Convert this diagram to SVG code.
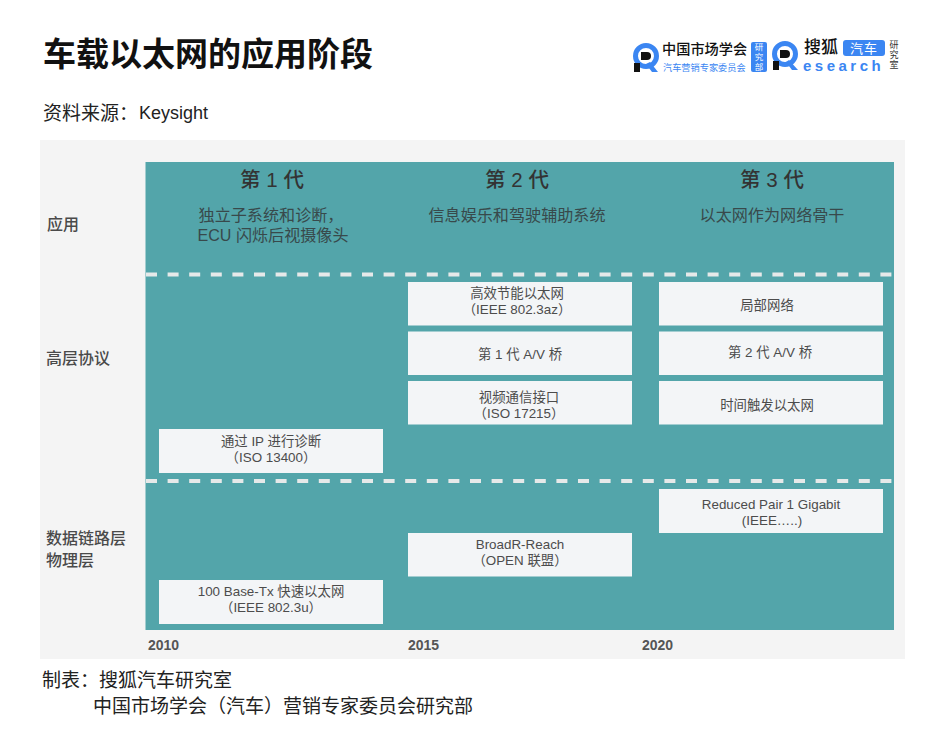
<svg xmlns="http://www.w3.org/2000/svg" width="938" height="752" viewBox="0 0 938 752">
<style>
text{font-family:"Liberation Sans","Noto Sans CJK SC",sans-serif}
.cjk{font-family:"Noto Sans CJK SC","Noto Sans",sans-serif}
.box{fill:#f3f5f7}
.bt{font-size:13.400px;fill:#4c4c4c;text-anchor:middle}
.side{font-size:16px;fill:#4a4a4a;font-weight:500}
.gen{font-size:20.500px;fill:#333;text-anchor:middle;font-weight:500}
.sub{font-size:16.100px;fill:#38494b;text-anchor:middle}
.yr{font-size:14px;fill:#555;font-weight:700}
.dash{stroke:#e6e9e9;stroke-width:4;stroke-dasharray:11 10.6;fill:none}
.foot{font-size:19px;fill:#222}
.blue{fill:#3b86f2}
.v{writing-mode:vertical-rl}
</style>
<rect width="938" height="752" fill="#fff"/>
<g id="title">
<text class="cjk" x="43" y="66" font-size="33" font-weight="700" fill="#111">车载以太网的应用阶段</text>
<text class="cjk" x="43" y="120" font-size="19" fill="#222">资料来源：</text>
<text x="139" y="119" font-size="18" fill="#222">Keysight</text>
</g>
<g id="logo">
<circle cx="646" cy="56" r="10.500" fill="none" stroke="#3b86f2" stroke-width="5"/>
<path d="M650 62l8 10h-6l-6-8z" class="blue"/>
<rect x="634" y="63" width="6" height="9" fill="#111"/>
<path d="M641 52h6a4 4 0 0 1 0 8h-6z" fill="#111"/>
<text class="cjk" x="662" y="54" font-size="14.200" font-weight="500" fill="#111">中国市场学会</text>
<text class="cjk" x="663" y="71" font-size="9.200" fill="#3b86f2">汽车营销专家委员会</text>
<rect x="751" y="42" width="16" height="30" rx="2" class="blue"/>
<text class="cjk v" x="759" y="43" font-size="8.500" fill="#fff" letter-spacing="1.300">研究部</text>
<circle cx="785" cy="54" r="10.500" fill="none" stroke="#3b86f2" stroke-width="5"/>
<path d="M789 60l9 10h-6l-6-8z" class="blue"/>
<rect x="773" y="61" width="6" height="9" fill="#111"/>
<path d="M780 50h6a4 4 0 0 1 0 8h-6z" fill="#111"/>
<text class="cjk" x="804" y="52.500" font-size="17" font-weight="500" fill="#111">搜狐</text>
<rect x="843" y="40" width="42" height="16" rx="3" class="blue"/>
<text class="cjk" x="864" y="53" font-size="13" fill="#fff" text-anchor="middle" letter-spacing="1">汽车</text>
<text x="803" y="71" font-size="15" font-weight="700" fill="#3b86f2" letter-spacing="3.500">esearch</text>
<text class="cjk v" x="894" y="40" font-size="9" fill="#333" letter-spacing="1">研究室</text>
</g>
<rect x="40" y="140" width="865" height="519" fill="#f4f4f4"/>
<rect x="145.500" y="162" width="748.500" height="468" fill="#53a5aa"/>
<g id="connectors">
<path class="dash" d="M146 274.500H892"/>
<path class="dash" d="M146 481H892"/>
</g>
<g id="side-labels">
<text class="cjk side" x="47" y="230">应用</text>
<text class="cjk side" x="46" y="364">高层协议</text>
<text class="cjk side" x="46" y="544">数据链路层</text>
<text class="cjk side" x="46" y="566">物理层</text>
</g>
<g id="gen1">
<text class="gen" x="272" y="187">第 1 代</text>
<text class="sub" x="271" y="221">独立子系统和诊断，</text>
<text class="sub" x="273" y="241">ECU 闪烁后视摄像头</text>
</g>
<g id="gen2">
<text class="gen" x="517" y="187">第 2 代</text>
<text class="sub" x="517" y="221">信息娱乐和驾驶辅助系统</text>
</g>
<g id="gen3">
<text class="gen" x="772" y="187">第 3 代</text>
<text class="sub" x="772" y="221">以太网作为网络骨干</text>
</g>
<g id="box-az"><rect class="box" x="408" y="282" width="224" height="43.500"/>
<text class="bt" x="517" y="298">高效节能以太网</text><text class="bt" x="517" y="314">（IEEE 802.3az）</text></g>
<g id="box-av1"><rect class="box" x="408" y="331.500" width="224" height="43.500"/>
<text class="bt" x="520" y="359">第 1 代 A/V 桥</text></g>
<g id="box-iso17215"><rect class="box" x="408" y="381" width="224" height="43.500"/>
<text class="bt" x="519" y="402">视频通信接口</text><text class="bt" x="519" y="418">（ISO 17215）</text></g>
<g id="box-local"><rect class="box" x="659" y="282" width="224" height="43.500"/>
<text class="bt" x="767" y="310">局部网络</text></g>
<g id="box-av2"><rect class="box" x="659" y="331.500" width="224" height="43.500"/>
<text class="bt" x="770" y="357">第 2 代 A/V 桥</text></g>
<g id="box-tsn"><rect class="box" x="659" y="381" width="224" height="43.500"/>
<text class="bt" x="767" y="410">时间触发以太网</text></g>
<g id="box-iso13400"><rect class="box" x="159" y="429" width="224" height="44"/>
<text class="bt" x="271" y="446">通过 IP 进行诊断</text><text class="bt" x="271" y="462">（ISO 13400）</text></g>
<g id="box-rpg"><rect class="box" x="659" y="489" width="224" height="44"/>
<text class="bt" x="771" y="509">Reduced Pair 1 Gigabit</text><text class="bt" x="772" y="525">(IEEE…..)</text></g>
<g id="box-broadr"><rect class="box" x="408" y="533" width="224" height="43.500"/>
<text class="bt" x="520" y="549">BroadR-Reach</text><text class="bt" x="520" y="565">（OPEN 联盟）</text></g>
<g id="box-100base"><rect class="box" x="159" y="580" width="224" height="44"/>
<text class="bt" x="271" y="596">100 Base-Tx 快速以太网</text><text class="bt" x="271" y="612">（IEEE 802.3u）</text></g>
<g id="years">
<text class="yr" x="148" y="650">2010</text>
<text class="yr" x="408" y="650">2015</text>
<text class="yr" x="642" y="650">2020</text>
</g>
<g id="footer">
<text class="cjk foot" x="42" y="687">制表：</text>
<text class="cjk foot" x="99" y="687">搜狐汽车研究室</text>
<text class="cjk foot" x="93" y="713">中国市场学会（汽车）营销专家委员会研究部</text>
</g>
</svg>
